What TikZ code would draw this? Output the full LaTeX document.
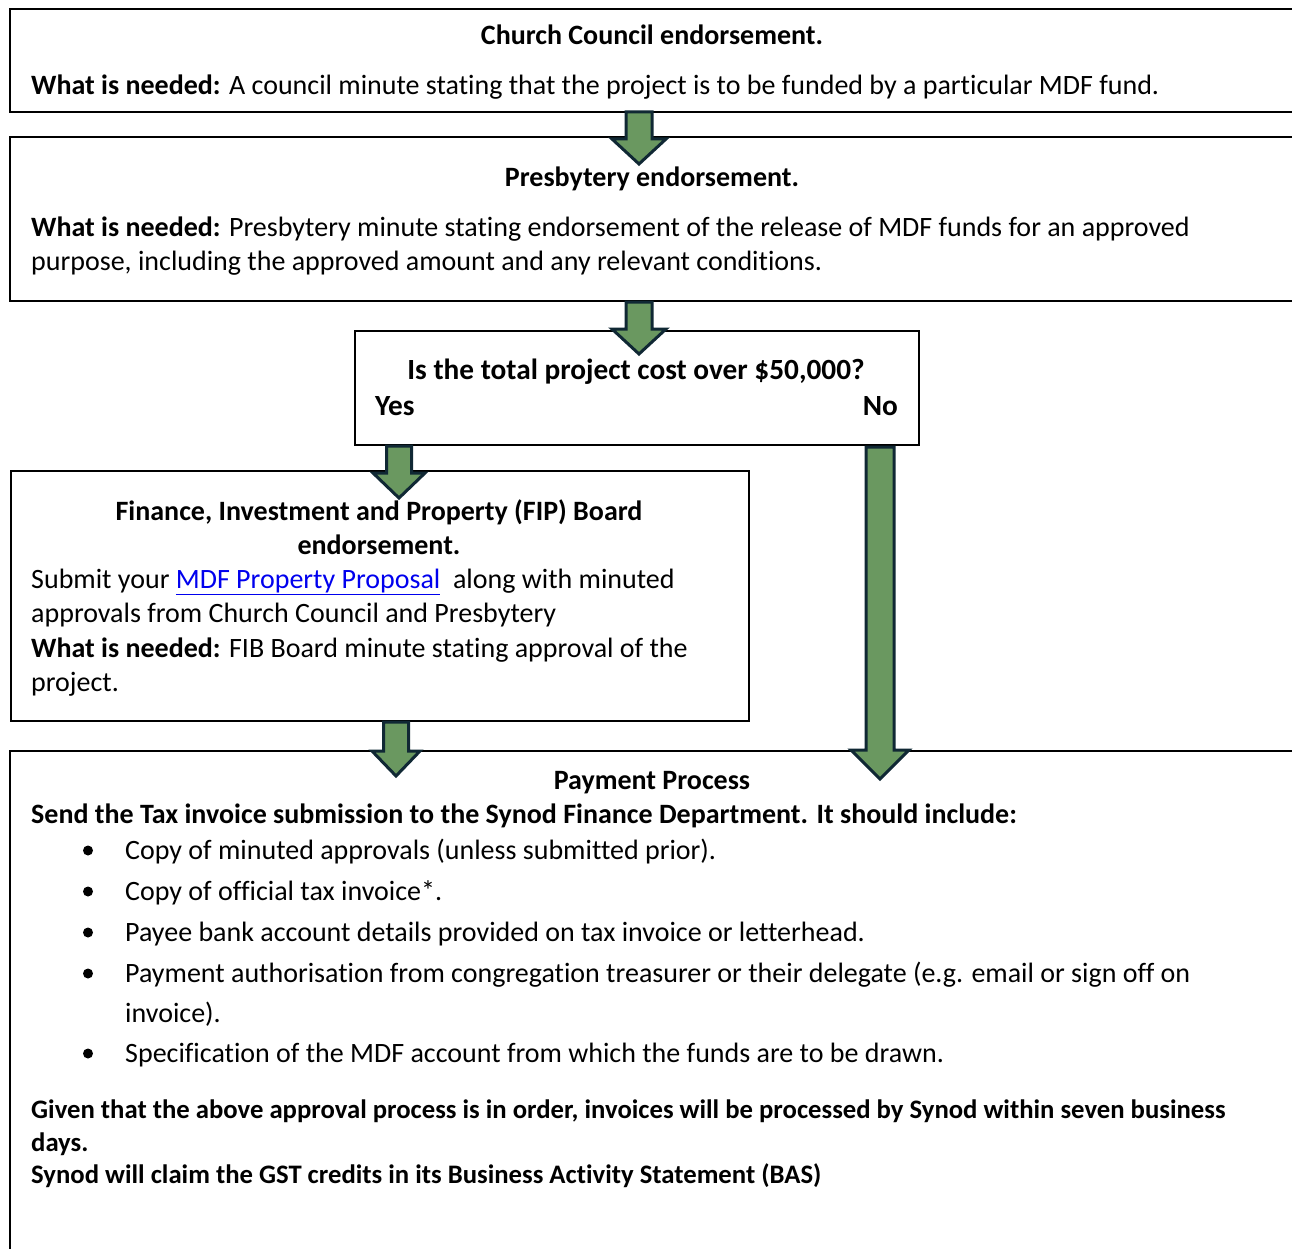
\documentclass[tikz,border=0pt]{standalone}
\usepackage{fontspec}
\setmainfont{Carlito}[Ligatures={NoCommon}]
\definecolor{arrfill}{RGB}{106,152,96}
\definecolor{arrline}{RGB}{16,40,52}
\definecolor{linkblue}{RGB}{0,0,238}
\tikzset{
  box/.style={draw=black, line width=2pt, fill=white, inner sep=0, anchor=north west},
  txt/.style={inner sep=0, anchor=base west, font=\fontsize{28}{34}\selectfont},
  ctxt/.style={txt, anchor=base},
  bigtxt/.style={font=\fontsize{29.3}{35}\selectfont},
  smalltxt/.style={font=\fontsize{26.7}{33}\selectfont},
  blkarr/.style={draw=arrline, fill=arrfill, line width=3pt, line join=miter},
  bul/.style={fill=black}
}
\newcommand\blkarrow[6]{% cx, ytop, yhead, ytip, shaft half, head half
  \draw[blkarr] ({#1-#5},#2) -- ({#1+#5},#2) -- ({#1+#5},#3) -- ({#1+#6},#3) -- (#1,#4) -- ({#1-#6},#3) -- ({#1-#5},#3) -- cycle;}
\begin{document}
\begin{tikzpicture}[x=1pt,y=-1pt]
\useasboundingbox (0,0) rectangle (1292,1249);
\clip (0,0) rectangle (1292,1249);
\fill[white] (0,0) rectangle (1292,1249);
% boxes
\node[box, minimum width=1301pt, minimum height=103pt] (b1) at (9,8) {};
\node[box, minimum width=1301pt, minimum height=164pt] (b2) at (9,136) {};
\node[box, line width=1.5pt, minimum width=564pt, minimum height=114pt] (b3) at (354,330) {};
\node[box, line width=1.5pt, minimum width=738pt, minimum height=250pt] (b4) at (10,470) {};
\node[box, minimum width=1301pt, minimum height=530pt] (b5) at (9,750) {};
% box 1 text
\node[ctxt] (t1a) at (652,45) {\bfseries Church Council endorsement.};
\node[txt] (t1b) at (31,95) {\textbf{What is needed:} A council minute stating that the project is to be funded by a particular MDF fund.};
% box 2 text
\node[ctxt] (t2a) at (652,187) {\bfseries Presbytery endorsement.};
\node[txt] (t2b) at (31,237) {\textbf{What is needed:} Presbytery minute stating endorsement of the release of MDF funds for an approved};
\node[txt] (t2c) at (31,270) {purpose, including the approved amount and any relevant conditions.};
% box 3 text
\node[ctxt, bigtxt] (t3a) at (636,379) {\bfseries Is the total project cost over \$50,000?};
\node[txt, bigtxt] (t3y) at (375,415) {\bfseries Yes};
\node[txt, bigtxt, anchor=base east] (t3n) at (898,415) {\bfseries No};
% box 4 text
\node[ctxt] (t4a) at (379,520) {\bfseries Finance, Investment and Property (FIP) Board};
\node[ctxt] (t4b) at (379,554) {\bfseries endorsement.};
\node[txt] (t4c) at (31,588) {Submit your \textcolor{linkblue}{\underline{MDF Property Proposal}}\ \ along with minuted};
\node[txt] (t4d) at (31,622) {approvals from Church Council and Presbytery};
\node[txt] (t4e) at (31,657) {\textbf{What is needed:} FIB Board minute stating approval of the};
\node[txt] (t4f) at (31,691) {project.};
% box 5 text
\node[ctxt] (t5a) at (652,789) {\bfseries Payment Process};
\node[txt] (t5b) at (31,823) {\bfseries Send the Tax invoice submission to the Synod Finance Department. It should include:};
\node[txt] (i1) at (125,859) {Copy of minuted approvals (unless submitted prior).};
\node[txt] (i2) at (125,900) {Copy of official tax invoice*.};
\node[txt] (i3) at (125,941) {Payee bank account details provided on tax invoice or letterhead.};
\node[txt] (i4) at (125,982) {Payment authorisation from congregation treasurer or their delegate (e.g. email or sign off on};
\node[txt] (i4b) at (125,1022) {invoice).};
\node[txt] (i5) at (125,1062) {Specification of the MDF account from which the funds are to be drawn.};
\foreach \yy in {859,900,941,982,1062} \fill[bul] (88,{\yy-8.5}) circle (5);
\node[txt, smalltxt] (t5c) at (31,1118) {\bfseries Given that the above approval process is in order, invoices will be processed by Synod within seven business};
\node[txt, smalltxt] (t5d) at (31,1151) {\bfseries days.};
\node[txt, smalltxt] (t5e) at (31,1183) {\bfseries Synod will claim the GST credits in its Business Activity Statement (BAS)};
% block arrows
\blkarrow{639}{112}{139}{164}{13}{27}
\blkarrow{639}{302}{329}{354}{13}{27}
\blkarrow{399}{446}{473}{498}{12.5}{26}
\blkarrow{880}{447}{750}{779}{14}{29}
\blkarrow{396}{722}{751}{776}{12.5}{24}
\end{tikzpicture}
\end{document}
